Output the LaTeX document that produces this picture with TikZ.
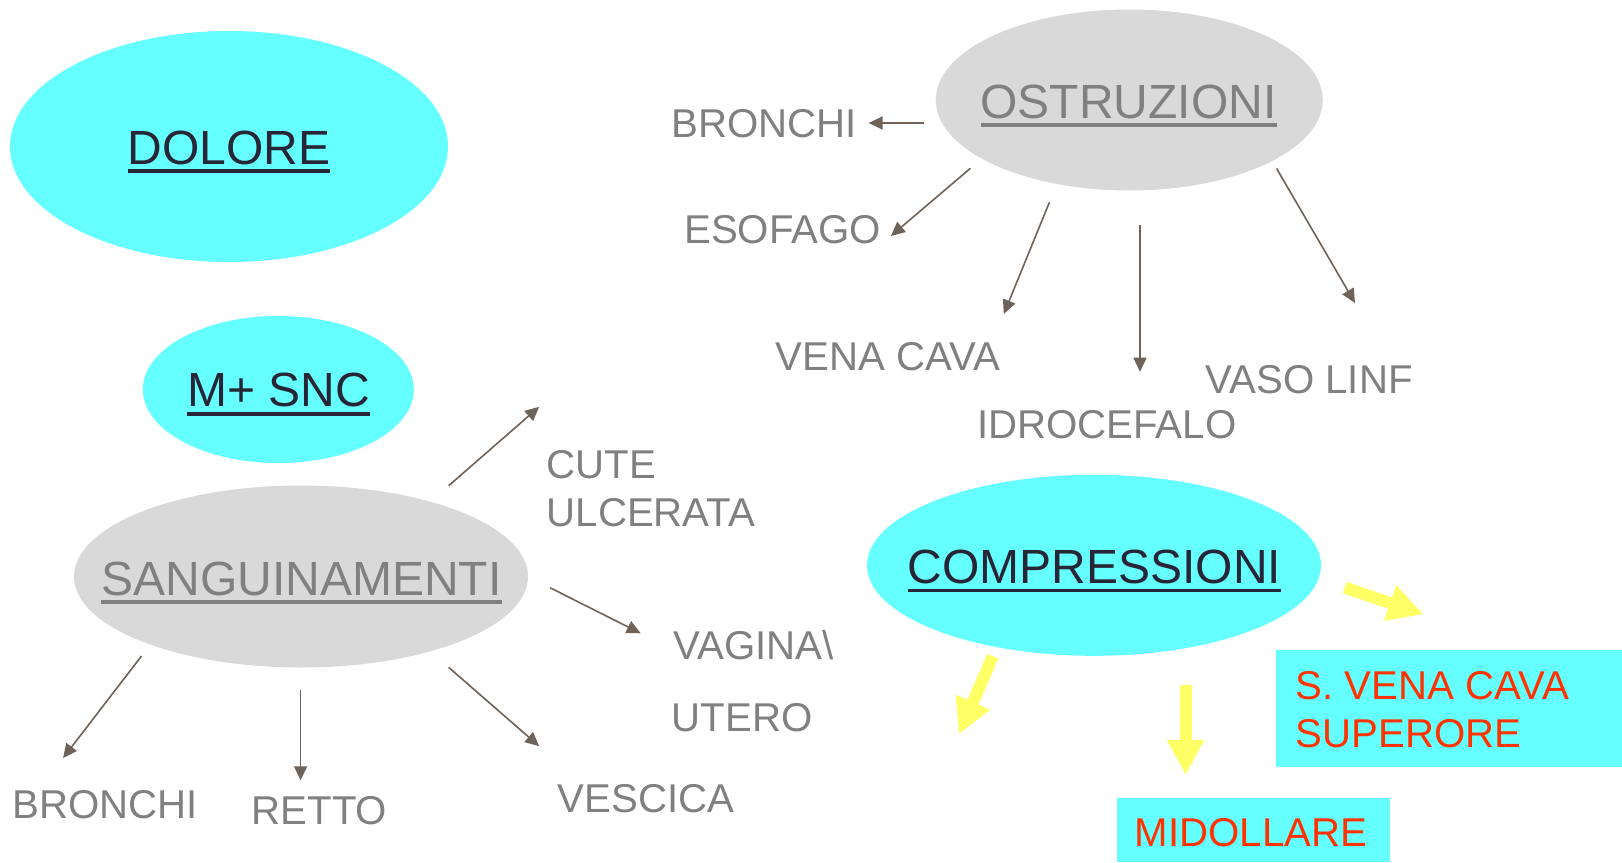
\documentclass[tikz,border=0pt]{standalone}
\usepackage{fontspec}
\setmainfont{Liberation Sans}
\usetikzlibrary{shapes.geometric,arrows.meta}
\definecolor{cyanfill}{HTML}{66FFFF}
\definecolor{grayfill}{HTML}{D9D9D9}
\definecolor{darktext}{HTML}{262636}
\definecolor{graytext}{HTML}{808080}
\definecolor{arrowcol}{HTML}{6F6259}
\definecolor{redtext}{HTML}{FF3300}
\definecolor{yellowarr}{HTML}{FFFF66}
\newcommand\myul[1]{\setbox0=\hbox{#1}\rlap{\copy0}\rule[-8.7pt]{\wd0}{3.6pt}}
\begin{document}
\begin{tikzpicture}[x=1pt,y=-1pt,
  blob/.style={ellipse,inner sep=0pt,draw=none},
  cyanblob/.style={blob,fill=cyanfill},
  grayblob/.style={blob,fill=grayfill},
  mainlbl/.style={inner sep=0pt,anchor=base,font=\fontsize{48}{48}\selectfont},
  darklbl/.style={mainlbl,text=darktext},
  greylbl/.style={mainlbl,text=graytext},
  sublbl/.style={inner sep=0pt,anchor=base west,text=graytext,font=\fontsize{40.2}{40.2}\selectfont},
  redlbl/.style={sublbl,text=redtext},
  cyanbox/.style={fill=cyanfill,inner sep=0pt,anchor=north west},
  link/.style={draw=arrowcol,line width=1.6pt,-{Triangle[length=14pt,width=13pt]}},
  fatarrow/.style={draw=yellowarr,line width=12pt,-{Triangle[length=35pt,width=35pt]}},
]
\fill[white] (0,0) rectangle (1622,862);
\useasboundingbox (0,0) rectangle (1622,862);

% ellipses
\node[cyanblob,minimum width=438pt,minimum height=231pt] (dolore) at (229,146.5) {};
\node[grayblob,minimum width=387pt,minimum height=181pt] (ostr) at (1129.3,100) {};
\node[cyanblob,minimum width=271pt,minimum height=147pt] (snc) at (278.3,389.5) {};
\node[grayblob,minimum width=454pt,minimum height=182pt] (sang) at (301,576.5) {};
\node[cyanblob,minimum width=454pt,minimum height=181pt] (comp) at (1094,565.3) {};

% main labels
\node[darklbl] (tdolore) at (229,164) {\myul{DOLORE}};
\node[greylbl] (tostr) at (1128.5,118) {\myul{OSTRUZIONI}};
\node[darklbl] (tsnc) at (278.5,406.8) {\myul{M+ SNC}};
\node[greylbl] (tsang) at (301.5,595) {\myul{SANGUINAMENTI}};
\node[darklbl] (tcomp) at (1094.5,583.5) {\myul{COMPRESSIONI}};

% ostruzioni targets
\node[sublbl] (obron) at (671.5,137) {BRONCHI};
\node[sublbl] (oeso) at (684,243) {ESOFAGO};
\node[sublbl] (ovena) at (775.5,370) {VENA CAVA};
\node[sublbl] (oidro) at (977,438.5) {IDROCEFALO};
\node[sublbl] (ovaso) at (1205.5,393.8) {VASO LINF};

% sanguinamenti targets
\node[sublbl] (scute1) at (546.5,478) {CUTE};
\node[sublbl] (scute2) at (546.5,526) {ULCERATA};
\node[sublbl] (svag1) at (673.3,659) {VAGINA\textbackslash};
\node[sublbl] (svag2) at (671.5,731) {UTERO};
\node[sublbl] (sves) at (557.5,812.5) {VESCICA};
\node[sublbl] (sbron) at (12.5,818) {BRONCHI};
\node[sublbl] (sret) at (251.5,824) {RETTO};

% compressioni targets
\node[cyanbox,minimum width=346pt,minimum height=117pt] (svcbox) at (1276,650) {};
\node[redlbl] (svc1) at (1295.5,699.5) {S. VENA CAVA};
\node[redlbl] (svc2) at (1295.5,747) {SUPERORE};
\node[cyanbox,minimum width=272.5pt,minimum height=64pt] (midbox) at (1117,798) {};
\node[redlbl] (mid) at (1134.5,846.5) {MIDOLLARE};

% connector ends
\coordinate (a1s) at (924.4,123);   \coordinate (a1e) at (868.6,123);
\coordinate (a2s) at (970.4,168.3); \coordinate (a2e) at (890.9,236);
\coordinate (a3s) at (1049.4,202.3);\coordinate (a3e) at (1003.8,314);
\coordinate (a4s) at (1140,225);    \coordinate (a4e) at (1140,371.7);
\coordinate (a5s) at (1276.6,168.5);\coordinate (a5e) at (1355,303);

\coordinate (b1s) at (448.7,485.7); \coordinate (b1e) at (539.2,406.8);
\coordinate (b2s) at (550.2,587.8); \coordinate (b2e) at (640.7,633.3);
\coordinate (b3s) at (448.7,667.4); \coordinate (b3e) at (539.2,746.2);
\coordinate (b4s) at (300.6,690);   \coordinate (b4e) at (300.6,780.3);
\coordinate (b5s) at (141.5,656);   \coordinate (b5e) at (63.1,758);

\coordinate (c1s) at (1344.7,587.5);\coordinate (c1e) at (1423.3,614.3);
\coordinate (c2s) at (992.8,656.3); \coordinate (c2e) at (958.9,734.3);
\coordinate (c3s) at (1185.6,685);  \coordinate (c3e) at (1185.6,775);

\foreach \k in {a1,a2,a3,a4,a5,b1,b2,b3,b4,b5}{\draw[link] (\k s) -- (\k e);}
\foreach \k in {c1,c2,c3}{\draw[fatarrow] (\k s) -- (\k e);}
\end{tikzpicture}
\end{document}
